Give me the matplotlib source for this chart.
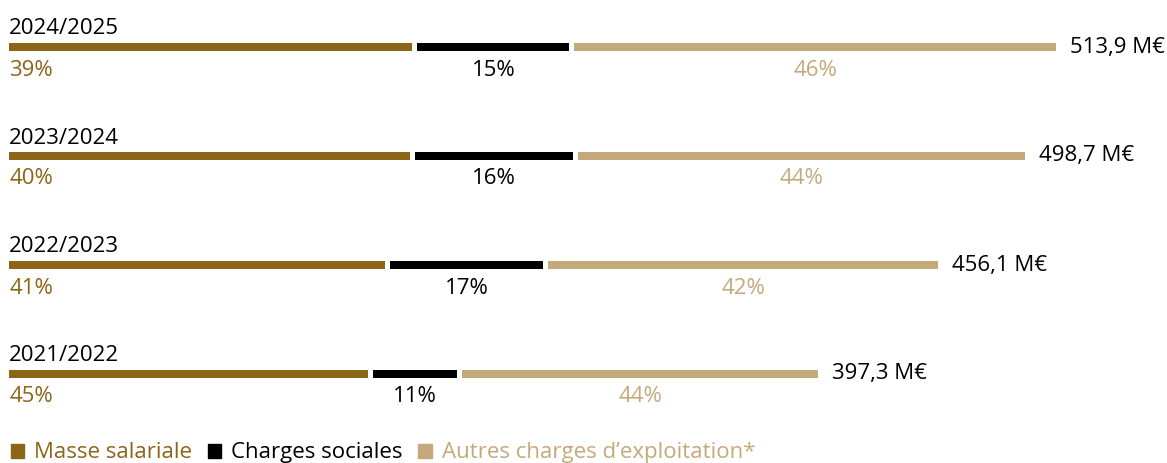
import matplotlib
matplotlib.use('Agg')
import matplotlib.pyplot as plt
from matplotlib.patches import Patch

# data
years = ['2024/2025', '2023/2024', '2022/2023', '2021/2022']
totals = [513.9, 498.7, 456.1, 397.3]
masse = [39, 40, 41, 45]
charges = [15, 16, 17, 11]
autres = [46, 44, 42, 44]
series_names = ['Masse salariale', 'Charges sociales', 'Autres charges d\u2019exploitation*']

colors = ['#8B6518', '#000000', '#C4A97A']
plt.rcParams['font.family'] = ['Open Sans', 'DejaVu Sans']

W, H = 1167, 463
fig = plt.figure(figsize=(W / 100, H / 100), dpi=100)
ax = fig.add_axes([0, 0, 1, 1])

# pixel mapping: x=0 at 9px, largest total ends at 1056px
x0_px, xend_px = 9, 1056
scale = (xend_px - x0_px) / max(totals)
ax.set_xlim(-x0_px / scale, (W - x0_px) / scale)
row_px, first_px = 109, 47
ax.set_ylim((H - first_px) / row_px, -first_px / row_px)
ax.axis('off')

gap = 5 / scale
bar_h = 8 / row_px
pt = 0.72  # px -> points at dpi 100
fs = 16

for i, yr in enumerate(years):
    parts = [masse[i], charges[i], autres[i]]
    left = 0
    for j, p in enumerate(parts):
        w = totals[i] * p / 100
        seg_w = w - gap if j < 2 else w
        ax.barh(i, seg_w, left=left, height=bar_h, color=colors[j])
        if j == 0:
            ax.annotate(f'{p}%', (left, i), xytext=(0, -23 * pt), textcoords='offset points',
                        ha='left', va='center', fontsize=fs, color=colors[j])
        else:
            ax.annotate(f'{p}%', (left + seg_w / 2, i), xytext=(0, -23 * pt), textcoords='offset points',
                        ha='center', va='center', fontsize=fs, color=colors[j])
        left += w
    ax.annotate(yr, (0, i), xytext=(0, 18 * pt), textcoords='offset points',
                ha='left', va='center', fontsize=fs, color='black')
    ax.annotate(f'{totals[i]:.1f} M\u20ac'.replace('.', ','), (totals[i], i), xytext=(14 * pt, 0),
                textcoords='offset points', ha='left', va='center', fontsize=fs, color='black')

handles = [Patch(color=c, label=n) for c, n in zip(colors, series_names)]
ax.legend(handles=handles, loc='lower left', bbox_to_anchor=(0, -0.025), ncol=3, frameon=False,
          fontsize=fs, labelcolor=colors, handlelength=0.6, handleheight=0.6,
          handletextpad=0.45, columnspacing=0.7, borderaxespad=0.3, borderpad=0.2)

fig.savefig('out.png', dpi=100)
